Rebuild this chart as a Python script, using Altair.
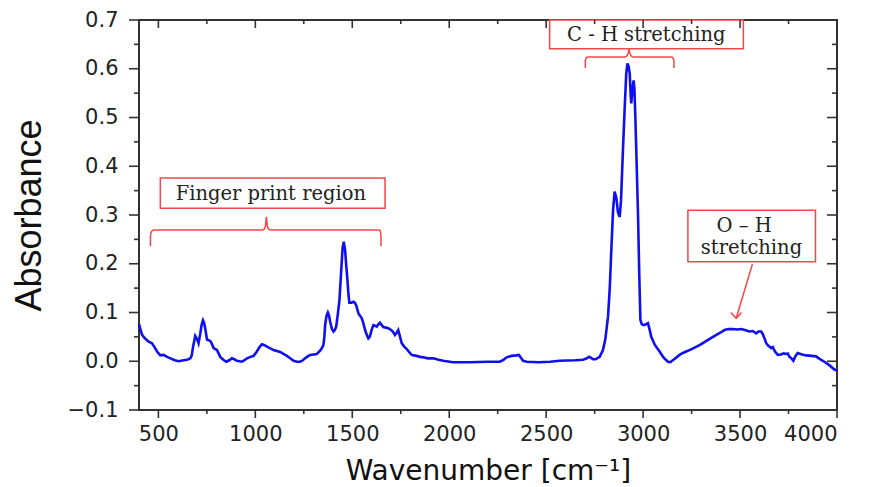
import altair as alt
import pandas as pd

# ---- spectrum ----
wavenumber = [400, 407, 416, 430, 450, 467, 480, 493, 510, 527, 545, 562, 585, 604, 630, 648, 665, 672, 679, 690,
              700, 707, 716, 723, 730, 736, 742, 751, 760, 771, 785, 802, 819, 835, 850, 865, 879, 892, 905, 931,
              957, 975, 991, 1008, 1020, 1034, 1047, 1060, 1094, 1128, 1145, 1163, 1180, 1197, 1215, 1231, 1245,
              1257, 1270, 1283, 1317, 1335, 1343, 1351, 1356, 1360, 1367, 1374, 1380, 1386, 1395, 1403, 1410, 1417,
              1425, 1434, 1442, 1450, 1456, 1463, 1469, 1475, 1480, 1485, 1495, 1506, 1513, 1520, 1532, 1549, 1557,
              1566, 1575, 1583, 1590, 1595, 1602, 1609, 1617, 1626, 1635, 1643, 1652, 1660, 1673, 1686, 1700, 1709,
              1720, 1728, 1737, 1745, 1755, 1768, 1781, 1795, 1806, 1819, 1832, 1850, 1866, 1890, 1918, 1945, 1969,
              2003, 2020, 2100, 2200, 2261, 2280, 2296, 2321, 2345, 2359, 2370, 2381, 2400, 2460, 2520, 2570, 2650,
              2690, 2710, 2721, 2732, 2742, 2755, 2776, 2793, 2805, 2819, 2828, 2836, 2845, 2853, 2862, 2870, 2879,
              2886, 2896, 2905, 2913, 2919, 2925, 2931, 2936, 2939, 2944, 2951, 2955, 2960, 2967, 2974, 2980, 2986,
              2993, 3003, 3015, 3025, 3033, 3042, 3060, 3085, 3105, 3128, 3140, 3160, 3188, 3205, 3250, 3291, 3308,
              3360, 3400, 3420, 3440, 3463, 3485, 3506, 3525, 3540, 3549, 3566, 3583, 3595, 3609, 3618, 3626, 3635,
              3645, 3652, 3660, 3669, 3680, 3695, 3710, 3725, 3738, 3746, 3755, 3765, 3775, 3785, 3797, 3820, 3841,
              3870, 3892, 3910, 3935, 3960, 3987, 4000]
absorbance = [0.076, 0.066, 0.054, 0.047, 0.040, 0.037, 0.029, 0.020, 0.012, 0.013, 0.009, 0.006, 0.002, 0.000,
              0.002, 0.003, 0.006, 0.012, 0.030, 0.052, 0.045, 0.037, 0.057, 0.075, 0.084, 0.078, 0.066, 0.044,
              0.043, 0.040, 0.027, 0.023, 0.009, 0.003, -0.001, 0.002, 0.006, 0.004, 0.001, -0.001, 0.006, 0.009,
              0.011, 0.020, 0.028, 0.035, 0.033, 0.030, 0.023, 0.019, 0.015, 0.011, 0.006, 0.001, -0.001, -0.001,
              0.002, 0.006, 0.010, 0.013, 0.015, 0.022, 0.027, 0.033, 0.050, 0.074, 0.093, 0.100, 0.094, 0.081,
              0.066, 0.061, 0.064, 0.071, 0.095, 0.126, 0.180, 0.232, 0.245, 0.228, 0.195, 0.167, 0.138, 0.120,
              0.120, 0.122, 0.120, 0.115, 0.098, 0.088, 0.078, 0.064, 0.054, 0.047, 0.050, 0.057, 0.067, 0.074,
              0.073, 0.071, 0.076, 0.079, 0.074, 0.070, 0.069, 0.068, 0.064, 0.061, 0.054, 0.058, 0.064, 0.052,
              0.037, 0.030, 0.025, 0.018, 0.013, 0.012, 0.011, 0.009, 0.008, 0.006, 0.006, 0.003, 0.001, -0.001,
              -0.002, -0.002, -0.001, -0.001, 0.003, 0.008, 0.011, 0.012, 0.013, 0.007, 0.001, -0.001, -0.002,
              -0.001, 0.001, 0.002, 0.003, 0.006, 0.009, 0.007, 0.004, 0.004, 0.009, 0.023, 0.045, 0.091, 0.150,
              0.228, 0.310, 0.348, 0.335, 0.306, 0.296, 0.330, 0.433, 0.520, 0.590, 0.611, 0.605, 0.590, 0.545,
              0.529, 0.555, 0.576, 0.560, 0.501, 0.400, 0.296, 0.180, 0.085, 0.076, 0.074, 0.076, 0.078, 0.066,
              0.050, 0.034, 0.020, 0.008, -0.001, -0.002, 0.004, 0.013, 0.017, 0.025, 0.033, 0.037, 0.050, 0.059,
              0.064, 0.066, 0.066, 0.065, 0.066, 0.064, 0.062, 0.061, 0.062, 0.057, 0.061, 0.061, 0.055, 0.047,
              0.037, 0.032, 0.030, 0.027, 0.029, 0.020, 0.013, 0.014, 0.016, 0.015, 0.016, 0.009, 0.006, 0.001,
              0.010, 0.017, 0.014, 0.012, 0.011, 0.010, 0.005, -0.001, -0.008, -0.017, -0.019]

# ---- axis ticks ----
x_major = [500, 1000, 1500, 2000, 2500, 3000, 3500, 4000]
x_minor = [750, 1250, 1750, 2250, 2750, 3250, 3750]
y_major = [-0.1, 0.0, 0.1, 0.2, 0.3, 0.4, 0.5, 0.6, 0.7]
y_minor = [-0.05, 0.05, 0.15, 0.25, 0.35, 0.45, 0.55, 0.65]

# ---- annotations (data coordinates) ----
box_labels = ["Finger print region", "C - H stretching", "O-H"]
box_x1 = [510, 2518, 3231]
box_x2 = [1669, 3517, 3889]
box_y1 = [0.314, 0.641, 0.204]
box_y2 = [0.376, 0.700, 0.310]

text_labels = ["Finger print region", "C - H stretching", "O \u2013 H", "stretching"]
text_x = [1080, 3016, 3521, 3559]
text_y = [0.3305, 0.6564, 0.2656, 0.2199]

# brace / arrow polylines
path_group = (["fp"] * 17 + ["ch"] * 17 + ["arrow"] * 2 + ["head"] * 3)
path_x = [459, 459, 462, 468, 478, 1035, 1046, 1052, 1057, 1062, 1068, 1079, 1638, 1644, 1646, 1648, 1648,
          2702, 2702, 2705, 2710, 2720, 2905, 2915, 2922, 2927, 2932, 2939, 2949, 3141, 3151, 3156, 3159, 3159,
          3564, 3480,
          3453, 3480, 3507]
path_y = [0.236, 0.257, 0.264, 0.268, 0.269, 0.269, 0.271, 0.277, 0.296, 0.277, 0.271, 0.269, 0.269, 0.268,
          0.264, 0.257, 0.236,
          0.6016, 0.617, 0.621, 0.6235, 0.624, 0.624, 0.626, 0.631, 0.640, 0.631, 0.626, 0.624, 0.624, 0.6235,
          0.621, 0.617, 0.6016,
          0.1994, 0.0881,
          0.100, 0.0881, 0.100]

W, H = 698, 390
XS = alt.Scale(domain=[400, 4000], nice=False, zero=False)
YS = alt.Scale(domain=[-0.1, 0.7], nice=False, zero=False)
RED = "#f24848"

spec_df = pd.DataFrame({"wn": wavenumber, "abs": absorbance})
curve = alt.Chart(spec_df).mark_line(color="#1010ee", strokeWidth=2.6).encode(
    x=alt.X("wn:Q", scale=XS,
            axis=alt.Axis(values=x_major, format="d", title="Wavenumber [cm\u207b\u00b9]", labelPadding=13,
                          titleFont="DejaVu Sans", titleFontSize=28, titlePadding=13)),
    y=alt.Y("abs:Q", scale=YS,
            axis=alt.Axis(values=y_major, format=".1f", title="Absorbance", labelPadding=21,
                          titleFont="Liberation Sans", titleFontSize=36, titlePadding=19)),
)

box_df = pd.DataFrame({"label": box_labels, "wn": box_x1, "wn2": box_x2, "abs": box_y1, "abs2": box_y2})
boxes = alt.Chart(box_df).mark_rect(fill="white", stroke=RED, strokeWidth=1.5).encode(
    x=alt.X("wn:Q", scale=XS), x2="wn2:Q", y=alt.Y("abs:Q", scale=YS), y2="abs2:Q")

text_df = pd.DataFrame({"label": text_labels, "wn": text_x, "abs": text_y})
texts = alt.Chart(text_df).mark_text(font="DejaVu Serif", fontSize=19.5, color="#222222",
                                     baseline="alphabetic", align="center").encode(
    x=alt.X("wn:Q", scale=XS), y=alt.Y("abs:Q", scale=YS), text="label:N")

path_df = pd.DataFrame({"grp": path_group, "ord": list(range(len(path_x))), "wn": path_x, "abs": path_y})
paths = alt.Chart(path_df).mark_line(color=RED, strokeWidth=1.5).encode(
    x=alt.X("wn:Q", scale=XS), y=alt.Y("abs:Q", scale=YS), detail="grp:N", order="ord:Q")

TICK = "#333333"
xmaj_df = pd.DataFrame({"wn": x_major})
xmin_df = pd.DataFrame({"wn": x_minor})
ymaj_df = pd.DataFrame({"abs": y_major})
ymin_df = pd.DataFrame({"abs": y_minor})

def xticks(df, y0, y1):
    return alt.Chart(df).mark_rule(color=TICK, strokeWidth=1.6).encode(
        x=alt.X("wn:Q", scale=XS), y=alt.value(y0), y2=alt.value(y1))

def yticks(df, x0, x1):
    return alt.Chart(df).mark_rule(color=TICK, strokeWidth=1.6).encode(
        y=alt.Y("abs:Q", scale=YS), x=alt.value(x0), x2=alt.value(x1))

ticks = [
    xticks(xmaj_df, H, H + 8), xticks(xmin_df, H, H + 4),
    xticks(xmaj_df, 0, 8), xticks(xmin_df, 0, 4),
    yticks(ymaj_df, -10, 0), yticks(ymin_df, -5, 0),
    yticks(ymaj_df, W - 10, W), yticks(ymin_df, W - 5, W),
]

chart = alt.layer(curve, boxes, paths, texts, *ticks).properties(
    width=W, height=H,
    padding={"left": 139, "top": 20, "right": 35, "bottom": 77},
    autosize=alt.AutoSizeParams(type="none"),
    background="white",
).configure_view(stroke="#333333", strokeWidth=2).configure_axis(
    grid=False, ticks=False, domain=False,
    labelFont="DejaVu Sans", labelFontSize=21, labelColor="#222222",
    titleColor="#111111", titleFontWeight="normal",
)

chart.save("out.html", embed_options={"renderer": "svg", "actions": False})
